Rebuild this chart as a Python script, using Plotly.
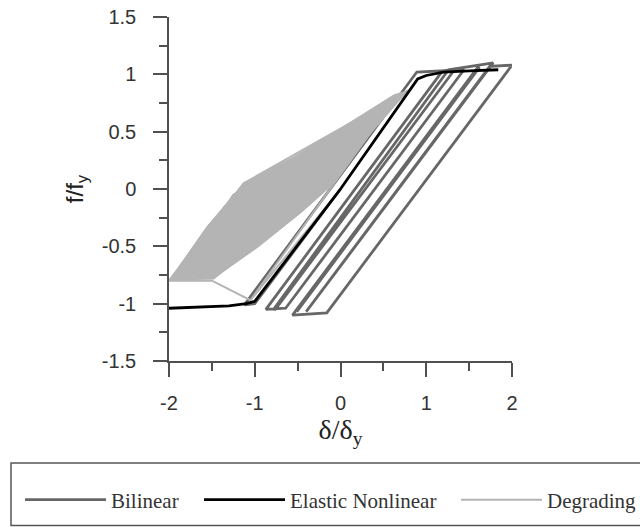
import plotly.graph_objects as go

# ---- data ----
bilinear_x = [0.00, -1.00, -1.12, 0.89, 1.44, -0.64, -0.87, 1.19, 1.33, -0.76, -0.78, 1.26, 1.78, -0.38, -0.40, 1.74, 2.00, -0.16, -0.56, 1.60, 1.62, -0.51]
bilinear_y = [0.00, -1.00, -1.01, 1.02, 1.04, -1.04, -1.05, 1.03, 1.04, -1.05, -1.05, 1.04, 1.10, -1.06, -1.07, 1.07, 1.08, -1.08, -1.10, 1.06, 1.06, -1.07]

elastic_x = [-2.00, -1.60, -1.30, -1.10, -1.00, 0.00, 0.90, 1.00, 1.20, 1.50, 1.84]
elastic_y = [-1.04, -1.03, -1.02, -1.00, -0.98, 0.00, 0.96, 0.99, 1.02, 1.03, 1.04]

degrading_x = [0.00, -1.05, -1.50, -2.00, -1.13, 0.79, 0.30, -0.15, -1.48, -1.90, -1.25, 0.62, 0.00, -1.80,
               -1.35, 0.35, -0.30, -1.70, -1.20, 0.10, -0.50, -1.60, -1.00, 0.55, -1.05]
degrading_y = [0.00, -0.97, -0.80, -0.80, 0.05, 0.86, 0.50, 0.02, -0.78, -0.78, -0.05, 0.78, 0.15, -0.76,
               -0.15, 0.62, -0.05, -0.78, -0.25, 0.45, -0.15, -0.75, -0.30, 0.70, -0.97]

# envelope of the densely overlapping degrading loops
degrading_env_x = [-2.00, -1.56, -1.13, -0.55, -0.08, 0.35, 0.62, 0.79, 0.37, -0.12, -0.45, -0.95, -1.48, -2.00]
degrading_env_y = [-0.80, -0.33, 0.05, 0.28, 0.49, 0.69, 0.82, 0.86, 0.50, 0.02, -0.20, -0.50, -0.78, -0.80]

x_ticks = [-2, -1, 0, 1, 2]
x_tick_text = ["-2", "-1", "0", "1", "2"]
y_ticks = [-1.5, -1, -0.5, 0, 0.5, 1, 1.5]
y_tick_text = ["-1.5", "-1", "-0.5", "0", "0.5", "1", "1.5"]

C_BIL = "#676767"
C_EL = "#000000"
C_DEG = "#b4b4b4"
AX = "#505050"

fig = go.Figure()
fig.add_trace(go.Scatter(x=bilinear_x, y=bilinear_y, mode="lines", name="Bilinear",
                         line=dict(color=C_BIL, width=2.8), legend="legend"))
fig.add_trace(go.Scatter(x=degrading_env_x, y=degrading_env_y, mode="lines", fill="toself",
                         fillcolor=C_DEG, line=dict(color=C_DEG, width=1), showlegend=False,
                         hoverinfo="skip"))
fig.add_trace(go.Scatter(x=degrading_x, y=degrading_y, mode="lines", name="Degrading",
                         line=dict(color=C_DEG, width=2), legend="legend3"))
fig.add_trace(go.Scatter(x=elastic_x, y=elastic_y, mode="lines", name="Elastic Nonlinear",
                         line=dict(color=C_EL, width=2.8), legend="legend2"))

axis_common = dict(showline=True, linecolor=AX, linewidth=1.5, ticks="outside", ticklen=14,
                   tickwidth=1.5, tickcolor=AX, showgrid=False, zeroline=False,
                   ticklabeloverflow="allow",
                   tickfont=dict(family="Liberation Sans, Arial", size=20, color="#333333"))

fig.update_xaxes(range=[-2, 2], tickvals=x_ticks, ticktext=x_tick_text, ticklabelstandoff=9,
                 minor=dict(dtick=0.5, ticklen=8, tickwidth=1.5, tickcolor=AX, ticks="outside"),
                 title=dict(text="δ/δ<sub>y</sub>", standoff=6,
                            font=dict(family="Liberation Serif, Times New Roman", size=28, color="#222222")),
                 **axis_common)
fig.update_yaxes(range=[-1.5, 1.5], tickvals=y_ticks, ticktext=y_tick_text, ticklabelstandoff=13,
                 minor=dict(dtick=0.25, ticklen=8, tickwidth=1.5, tickcolor=AX, ticks="outside"),
                 title=dict(text="f/f<sub>y</sub>", standoff=11,
                            font=dict(family="Liberation Sans, Arial", size=24, color="#222222")),
                 **axis_common)

legend_font = dict(family="Liberation Serif, Times New Roman", size=21, color="#333333")
legend_common = dict(orientation="h", xanchor="left", y=-0.4041, yanchor="middle",
                     font=legend_font, itemwidth=81, borderwidth=0, bgcolor="rgba(0,0,0,0)")

fig.update_layout(
    width=640, height=527,
    margin=dict(l=169, r=128, t=17, b=166, autoexpand=False),
    paper_bgcolor="white", plot_bgcolor="white",
    showlegend=True,
    legend=dict(x=-0.4344, **legend_common),
    legend2=dict(x=0.0875, **legend_common),
    legend3=dict(x=0.8367, **legend_common),
    shapes=[dict(type="rect", xref="paper", yref="paper", x0=-0.4606, x1=2.0, y0=-0.2965, y1=-0.4782,
                 line=dict(color="#555555", width=1.5), fillcolor="rgba(0,0,0,0)", layer="below")],
)

fig.write_html("out.html", config={"displayModeBar": False},
               post_script="document.body.style.margin='0px';")
